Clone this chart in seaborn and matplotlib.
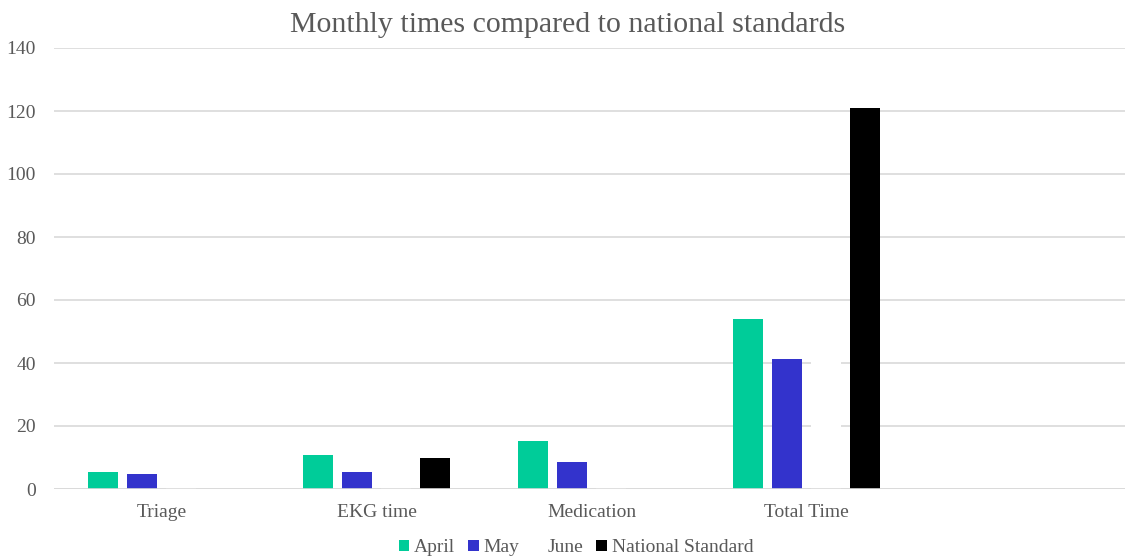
import pandas as pd
import seaborn as sns
import matplotlib.pyplot as plt

categories = ["Triage", "EKG time", "Medication", "Total Time"]
months = ["April", "May", "June", "National Standard"]
april = [5.4, 10.9, 15.1, 54.0]
may = [4.8, 5.4, 8.5, 41.4]
june = [5.0, 7.0, 12.0, 50.0]
national = [0.0, 10.0, 0.0, 121.0]
colors = ["#00CC99", "#3333CC", "#FFFFFF", "#000000"]

grey = "#595959"

sns.set_theme(style="white")
plt.rcParams["font.family"] = ["Liberation Serif", "DejaVu Serif"]

df = pd.DataFrame({
    "category": categories * 4,
    "series": sum([[m] * len(categories) for m in months], []),
    "value": april + may + june + national,
})

fig = plt.figure(figsize=(11.25, 5.6), dpi=100)
ax = fig.add_axes([54 / 1125, 71 / 560, 1075 / 1125, 441 / 560])
ax.set_axisbelow(True)
ax.yaxis.grid(True, color="#d9d9d9", linewidth=1.2)

sns.barplot(data=df, x="category", y="value", hue="series", order=categories,
            hue_order=months, palette=colors, width=0.726, gap=0.23,
            linewidth=0, saturation=1, ax=ax)

# baseline stays on top of the bars
ax.axhline(0, color="#d9d9d9", linewidth=1.2, zorder=5)

ax.set_xlim(-0.5, 4.5)
ax.set_ylim(0, 140)
ax.set_yticks(range(0, 141, 20))
ax.set_xlabel("")
ax.set_ylabel("")
for s in ax.spines.values():
    s.set_visible(False)
ax.tick_params(axis="both", length=0, labelsize=14, labelcolor=grey)
ax.tick_params(axis="x", pad=11)
ax.tick_params(axis="y", pad=13)

handles, labels = ax.get_legend_handles_labels()
ax.get_legend().remove()
fig.legend(handles, labels, loc="lower center", bbox_to_anchor=(0.512, -0.025),
           ncol=4, frameon=False, fontsize=14, labelcolor=grey,
           handlelength=0.55, handleheight=0.55, handletextpad=0.25,
           columnspacing=0.65)

fig.suptitle("Monthly times compared to national standards", x=0.505, y=0.978,
             fontsize=21.5, color=grey)

fig.savefig("out.png", dpi=100)
